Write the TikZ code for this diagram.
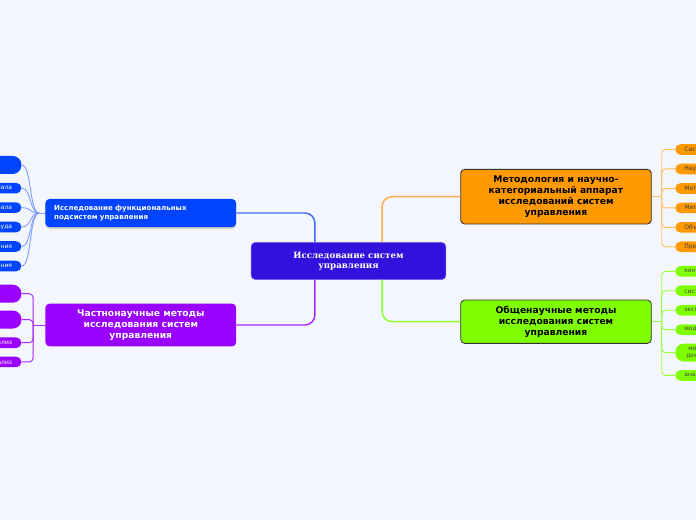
\documentclass[tikz,border=0pt]{standalone}
\usepackage{fontspec}
\setmainfont{DejaVu Sans}
\newfontfamily\coreserif{DejaVu Serif}
\usetikzlibrary{positioning,shadows}
\definecolor{PaperBlue}{RGB}{244,246,254}
\definecolor{CoreIndigo}{RGB}{51,17,221}
\definecolor{CoreEdge}{RGB}{120,100,240}
\definecolor{FuncBlue}{RGB}{0,68,255}
\definecolor{PartViolet}{RGB}{153,0,255}
\definecolor{MethOrange}{RGB}{255,153,0}
\definecolor{GenGreen}{RGB}{128,255,0}
\definecolor{FuncLine}{RGB}{60,110,255}
\definecolor{FuncTwig}{RGB}{130,160,255}
\definecolor{PartLine}{RGB}{170,40,255}
\definecolor{MethLine}{RGB}{255,175,70}
\definecolor{MethTwig}{RGB}{255,190,90}
\definecolor{GenLine}{RGB}{140,255,40}
\definecolor{GenTwig}{RGB}{150,255,60}

\begin{document}
\begin{tikzpicture}[x=0.75pt, y=-0.75pt,
    core/.style={rectangle, fill=CoreIndigo, draw=CoreEdge, line width=0.4pt, rounded corners=3pt,
                 minimum width=146pt, minimum height=27.8pt, align=center, text=white,
                 font=\coreserif\fontsize{6.5}{7.7}\selectfont\bfseries},
    topic/.style={rectangle, rounded corners=3pt, minimum width=143pt, align=center,
                  font=\fontsize{6.9}{8.1}\selectfont\bfseries},
    kidL/.style={rectangle, rounded corners=4pt, minimum height=8pt, text width=90pt,
                 inner xsep=7pt, inner ysep=0pt, align=right, text=white,
                 font=\fontsize{4.5}{5.4}\selectfont},
    kidR/.style={rectangle, rounded corners=4pt, minimum height=8pt, text width=90pt,
                 inner xsep=6.8pt, inner ysep=0pt, align=left,
                 font=\fontsize{4.5}{5.4}\selectfont},
    bigkid/.style={minimum height=13.5pt, rounded corners=6.5pt, align=left},
    mainlink/.style={line width=1.1pt, rounded corners=7.5pt},
    twig/.style={line width=0.7pt}
]
    \useasboundingbox (0,0) rectangle (696,520);
    \clip (0,0) rectangle (696,520);
    \fill[PaperBlue] (0,0) rectangle (696,520);

    % central topic and the four main branches
    \node[core] (core) at (348.5,261) {Исследование систем\\управления};
    \node[topic, fill=FuncBlue, text=white, align=left, text width=130pt, inner xsep=6pt,
          minimum height=21pt, font=\fontsize{5.3}{6.5}\selectfont\bfseries,
          drop shadow={shadow xshift=0pt, shadow yshift=-1.2pt, fill=black!40, opacity=.6}]
          (func) at (140.8,213) {Исследование функциональных\\подсистем управления};
    \node[topic, fill=PartViolet, text=white, minimum height=32pt] (part) at (140.8,325)
          {Частнонаучные методы\\исследования систем\\управления};
    \node[topic, fill=MethOrange, draw=black!80, line width=0.6pt, minimum height=41pt] (meth) at (556,196.7)
          {Методология и научно-\\категориальный аппарат\\исследований систем\\управления};
    \node[topic, fill=GenGreen, draw=black!80, line width=0.6pt, minimum height=32.5pt] (gen) at (556,321.7)
          {Общенаучные методы\\исследования систем\\управления};

    \draw[mainlink, FuncLine] (func.east) -| ([xshift=48pt]core.north west);
    \draw[mainlink, MethLine] (meth.west) -| ([xshift=-48pt]core.north east);
    \draw[mainlink, PartLine] (part.east) -| ([xshift=48pt]core.south west);
    \draw[mainlink, GenLine] (gen.west) -| ([xshift=-48pt]core.south east);

    % functional subsystems
    \node[kidL, bigkid, fill=FuncBlue, anchor=east] (f1) at (21.7,165) {Исследование системы\\управления};
    \node[kidL, fill=FuncBlue, below=6.2pt of f1] (f2) {Подбор персонала};
    \node[kidL, fill=FuncBlue, below=6.2pt of f2] (f3) {Развитие персонала};
    \node[kidL, fill=FuncBlue, below=6.2pt of f3] (f4) {Оплата труда};
    \node[kidL, fill=FuncBlue, below=6.2pt of f4] (f5) {Система стимулирования};
    \node[kidL, fill=FuncBlue, below=6.2pt of f5] (f6) {Система обучения};
    \coordinate (fj) at ([xshift=-4.5pt]func.west);
    \draw[twig, FuncTwig] (func.west) -- (fj);
    \foreach \k in {f1,f2,f3,f4,f5,f6}
        \draw[twig, FuncTwig] (fj) .. controls +(-10,0) and +(10,0) .. (\k.east);

    % particular methods
    \node[kidL, bigkid, fill=PartViolet, anchor=east] (p1) at (21.7,293.7) {Социологические\\методы};
    \node[kidL, bigkid, fill=PartViolet, below=5.5pt of p1] (p2) {Экономические\\методы};
    \node[kidL, fill=PartViolet, below=6.2pt of p2] (p3) {Экономический анализ};
    \node[kidL, fill=PartViolet, below=6pt of p3] (p4) {Финансовый анализ};
    \coordinate (pj) at ([xshift=-9pt]part.west);
    \draw[twig, PartLine] (part.west) -- (pj);
    \foreach \k in {p1,p2,p3,p4}
        \draw[twig, PartLine, rounded corners=3pt] (pj) |- (\k.east);

    % methodology
    \node[kidR, fill=MethOrange, text=black!75, anchor=west] (m1) at (675,149.5) {Системный подход};
    \node[kidR, fill=MethOrange, text=black!75, below=6.2pt of m1] (m2) {Научный метод};
    \node[kidR, fill=MethOrange, text=black!75, below=6.2pt of m2] (m3) {Методология};
    \node[kidR, fill=MethOrange, text=black!75, below=6.2pt of m3] (m4) {Методы исследования};
    \node[kidR, fill=MethOrange, text=black!75, below=6.2pt of m4] (m5) {Объект исследования};
    \node[kidR, fill=MethOrange, text=black!75, below=6.2pt of m5] (m6) {Предмет исследования};
    \coordinate (mj) at ([xshift=7.5pt]meth.east);
    \draw[twig, MethTwig] (meth.east) -- (mj);
    \foreach \k in {m1,m2,m3,m4,m5,m6}
        \draw[twig, MethTwig, rounded corners=3pt] (mj) |- (\k.west);

    % general scientific methods
    \node[kidR, fill=GenGreen, text=black!75, anchor=west] (g1) at (675,271.3) {контент-анализ};
    \node[kidR, fill=GenGreen, text=black!75, below=6.2pt of g1] (g2) {системный анализ};
    \node[kidR, fill=GenGreen, text=black!75, below=6.2pt of g2] (g3) {эксперимент};
    \node[kidR, fill=GenGreen, text=black!75, below=6.2pt of g3] (g4) {моделирование};
    \node[kidR, bigkid, fill=GenGreen, text=black!75, below=6pt of g4] (g5) {\ \ мониторинг\\\ деятельности};
    \node[kidR, fill=GenGreen, text=black!75, below=6pt of g5] (g6) {анализ документов};
    \coordinate (gj) at ([xshift=7.5pt]gen.east);
    \draw[twig, GenTwig] (gen.east) -- (gj);
    \foreach \k in {g1,g2,g3,g4,g5,g6}
        \draw[twig, GenTwig, rounded corners=3pt] (gj) |- (\k.west);
\end{tikzpicture}
\end{document}
